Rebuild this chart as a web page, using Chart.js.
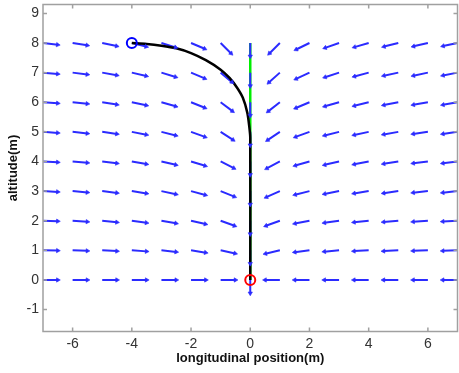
<!DOCTYPE html>
<html>
<head>
<meta charset="utf-8">
<script src="https://cdn.jsdelivr.net/npm/chart.js@4"></script>
<style>body{margin:0;background:#fff;overflow:hidden} canvas{display:block}</style>
</head>
<body>
<canvas id="c" width="459" height="373"></canvas>
<script>
// 矢印の格子 (x = -7..7, y = 8..0)
const colX = [-7, -6, -5, -4, -3, -2, -1, 0, 1, 2, 3, 4, 5, 6, 7];
const rowY = [8, 7, 6, 5, 4, 3, 2, 1, 0];
// 各矢印の下向きの傾き(度)、行は rowY、列は colX
const dropAngle = [
  [7, 9, 12, 14, 17, 23, 45, 90, 45, 26, 19, 16, 14, 13, 12],
  [5, 7, 10, 13, 17, 23, 40, 90, 42, 25, 18, 15, 12, 12, 11],
  [4, 6, 9, 12, 16, 22, 37, 90, 38, 23, 16, 14, 11, 10, 10],
  [4, 6, 8, 11, 14, 20, 33, 90, 34, 20, 14, 12, 10, 8, 8],
  [3, 5, 7, 10, 13, 17, 27, 90, 28, 16, 13, 11, 9, 7, 7],
  [3, 5, 7, 9, 12, 15, 22, 90, 24, 14, 11, 9, 8, 6, 6],
  [2, 4, 6, 8, 10, 13, 20, 90, 20, 11, 8, 6, 5, 4, 3],
  [1, 2, 3, 4, 6, 9, 12, 90, 13, 7, 5, 3, 3, 2, 2],
  [0, 0, 0, 0, 0, 0, 0, 90, 0, 0, 0, 0, 0, 0, 0]
];
const arrowLen = 0.5;   // 横向き矢印の長さ
const vertLen = 0.45;   // x=0 の下向き矢印の長さ

// 飛行経路 (黒線)
const pathX = [-4, -3.5, -3, -2.5, -2, -1.5, -1.0, -0.7, -0.45, -0.25, -0.1, -0.03, 0, 0];
const pathY = [8, 7.97, 7.91, 7.82, 7.66, 7.42, 7.1, 6.82, 6.5, 6.15, 5.65, 5.15, 4.8, 0];
// 目標経路 (緑線)
const refX = [0, 0];
const refY = [0, 8];
// 始点と終点
const startPt = [-4, 8];
const endPt = [0, 0];

const xTicks = [-6, -4, -2, 0, 2, 4, 6];
const yTicks = [-1, 0, 1, 2, 3, 4, 5, 6, 7, 8, 9];

const blue = '#2b2bff';

// 矢印の線分と矢じりを作る
const shafts = [];
const heads = [];
const headRot = [];
rowY.forEach((y, r) => {
  colX.forEach((x, c) => {
    const a = dropAngle[r][c] * Math.PI / 180;
    let dx, dy;
    if (x < 0) { dx = Math.cos(a); dy = -Math.sin(a); }
    else if (x > 0) { dx = -Math.cos(a); dy = -Math.sin(a); }
    else { dx = 0; dy = -1; }
    const len = x === 0 ? vertLen : arrowLen;
    const hx = x + len * dx, hy = y + len * dy;
    shafts.push({x: x, y: y}, {x: hx, y: hy}, {x: hx, y: null});
    heads.push({x: hx, y: hy});
    headRot.push(Math.atan2(dx, dy) * 180 / Math.PI);
  });
});

const frame = {
  id: 'frame',
  afterDatasetsDraw(chart) {
    const {ctx, chartArea: a, scales} = chart;
    ctx.save();
    ctx.strokeStyle = '#a0a0a0';
    ctx.lineWidth = 1.5;
    ctx.strokeRect(a.left, a.top, a.right - a.left, a.bottom - a.top);
    ctx.beginPath();
    xTicks.forEach(v => {
      const p = scales.x.getPixelForValue(v);
      ctx.moveTo(p, a.bottom); ctx.lineTo(p, a.bottom - 4);
      ctx.moveTo(p, a.top); ctx.lineTo(p, a.top + 4);
    });
    yTicks.forEach(v => {
      const p = scales.y.getPixelForValue(v);
      ctx.moveTo(a.left, p); ctx.lineTo(a.left + 4, p);
      ctx.moveTo(a.right, p); ctx.lineTo(a.right - 4, p);
    });
    ctx.stroke();
    ctx.restore();
  }
};

function noPad(s) {
  s.paddingTop = 0; s.paddingBottom = 0; s.paddingLeft = 0; s.paddingRight = 0;
}

const tickFont = {family: 'Liberation Sans, Arial, sans-serif', size: 14};
const titleFont = {family: 'Liberation Sans, Arial, sans-serif', size: 13, weight: 'bold'};

new Chart(document.getElementById('c').getContext('2d'), {
  type: 'scatter',
  data: {
    datasets: [
      {
        data: [{x: startPt[0], y: startPt[1]}],
        pointRadius: 5, pointBorderWidth: 2,
        pointBorderColor: '#0000ff', pointBackgroundColor: 'rgba(0,0,0,0)'
      },
      {
        data: [{x: endPt[0], y: endPt[1]}],
        pointRadius: 5, pointBorderWidth: 2,
        pointBorderColor: '#ff0000', pointBackgroundColor: 'rgba(0,0,0,0)'
      },
      {
        data: heads,
        pointStyle: 'triangle', pointRadius: 2.5, pointRotation: headRot,
        pointBorderWidth: 0.6, pointBorderColor: blue, pointBackgroundColor: blue
      },
      {
        data: pathX.map((x, i) => ({x: x, y: pathY[i]})),
        showLine: true, pointRadius: 0, tension: 0.3,
        borderColor: '#000000', borderWidth: 2.5
      },
      {
        data: shafts,
        showLine: true, spanGaps: false, pointRadius: 0,
        borderColor: blue, borderWidth: 2
      },
      {
        data: refX.map((x, i) => ({x: x, y: refY[i]})),
        showLine: true, pointRadius: 0,
        borderColor: '#00ee00', borderWidth: 2.5
      }
    ]
  },
  options: {
    responsive: false,
    animation: false,
    devicePixelRatio: 1,
    layout: {autoPadding: false, padding: {top: 4.5, right: 1.5, left: 0, bottom: 0}},
    plugins: {legend: {display: false}, tooltip: {enabled: false}},
    scales: {
      x: {
        type: 'linear', min: -7, max: 7,
        grid: {display: false, drawTicks: false},
        border: {display: false},
        afterBuildTicks: s => { s.ticks = xTicks.map(v => ({value: v})); },
        afterFit: s => { s.height = 41.5; noPad(s); },
        ticks: {color: '#333', font: tickFont, padding: 4, maxRotation: 0},
        title: {display: true, text: 'longitudinal position(m)', color: '#111',
                font: titleFont, padding: {top: 0, bottom: 7}}
      },
      y: {
        type: 'linear', min: -1.74, max: 9.3,
        grid: {display: false, drawTicks: false},
        border: {display: false},
        afterBuildTicks: s => { s.ticks = yTicks.map(v => ({value: v})); },
        afterFit: s => { s.width = 43; noPad(s); },
        ticks: {color: '#333', font: tickFont, padding: 4},
        title: {display: true, text: 'altitude(m)', color: '#111',
                font: titleFont, padding: {top: 6, bottom: 0}}
      }
    }
  },
  plugins: [frame]
});
</script>
</body>
</html>
